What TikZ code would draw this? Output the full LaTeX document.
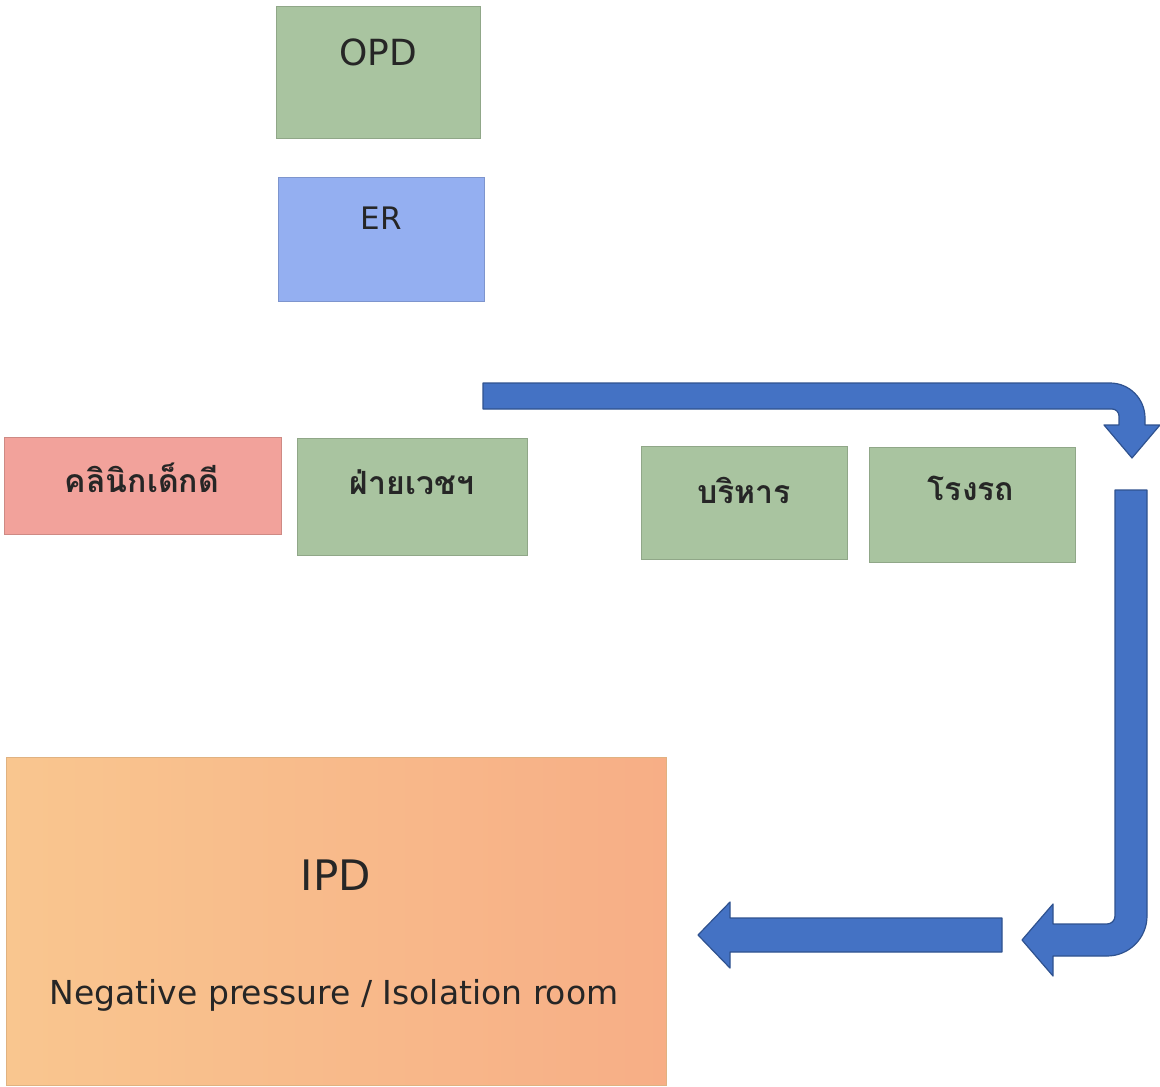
\documentclass[tikz,border=0pt]{standalone}
\usepackage{fontspec}
\setmainfont{DejaVu Sans}
\newfontfamily\thaifont[Script=Thai]{Loma}

\definecolor{roomgreen}{HTML}{A9C4A0}
\definecolor{roomblue}{HTML}{94AFF1}
\definecolor{roompink}{HTML}{F2A29B}
\definecolor{ipdleft}{HTML}{F9C68F}
\definecolor{ipdright}{HTML}{F7AE86}
\definecolor{flowblue}{HTML}{4472C4}
\definecolor{flowedge}{HTML}{2F528F}
\definecolor{ink}{HTML}{262626}

\begin{document}
\begin{tikzpicture}[x=1pt,y=-1pt,
    room/.style={draw=#1!85!black, fill=#1, inner sep=0pt},
    label/.style={text=ink, font=\fontsize{31}{36}\selectfont},
    thailabel/.style={text=ink, font=\thaifont\bfseries\fontsize{32}{38}\selectfont},
    flow/.style={fill=flowblue, draw=flowedge, line width=1.2pt, line join=round}]
    \useasboundingbox (0,0) rectangle (1160,1087);

    % rooms
    \node[room=roomgreen, minimum width=204pt, minimum height=132pt] (opd) at (378,72) {};
    \node[room=roomblue, minimum width=206pt, minimum height=124pt] (er) at (381,239) {};
    \node[room=roompink, minimum width=277pt, minimum height=97pt] (kids) at (142.5,485.5) {};
    \node[room=roomgreen, minimum width=230pt, minimum height=117pt] (vech) at (412,496.5) {};
    \node[room=roomgreen, minimum width=206pt, minimum height=113pt] (admin) at (744,502.5) {};
    \node[room=roomgreen, minimum width=206pt, minimum height=115pt] (garage) at (972,504.5) {};
    \node[draw=ipdleft!90!black, left color=ipdleft, right color=ipdright,
          minimum width=660pt, minimum height=328pt, inner sep=0pt] (ipd) at (336,921) {};

    % texts
    \node[label, font=\fontsize{36}{40}\selectfont] (opdtxt) at (378,52) {OPD};
    \node[label] (ertxt) at (381,218) {ER};
    \node[thailabel] (kidstxt) at (142,478) {คลินิกเด็กดี};
    \node[thailabel] (vechtxt) at (412,482) {ฝ่ายเวชฯ};
    \node[thailabel] (admintxt) at (744,490) {บริหาร};
    \node[thailabel] (garagetxt) at (971,488) {โรงรถ};
    \node[label, font=\fontsize{42}{48}\selectfont] (ipdtxt) at (336,875) {IPD};
    \node[label, font=\fontsize{33}{38}\selectfont] (isotxt) at (334,995) {Negative pressure / Isolation room};

    % flow arrows
    \draw[flow] (483,383) -- (1110,383) arc (-90:0:35) -- (1145,425) -- (1160,425)
        -- (1132,458) -- (1104,425) -- (1119,425) -- (1119,416) arc (0:-90:7)
        -- (483,409) -- cycle;
    \draw[flow] (1115,490) -- (1147,490) -- (1147,916) arc (0:90:40) -- (1053,956)
        -- (1053,976) -- (1022,940) -- (1053,904) -- (1053,924) -- (1107,924)
        arc (90:0:8) -- cycle;
    \draw[flow] (1002,918) -- (730,918) -- (730,902) -- (698,935) -- (730,968)
        -- (730,952) -- (1002,952) -- cycle;
\end{tikzpicture}
\end{document}
